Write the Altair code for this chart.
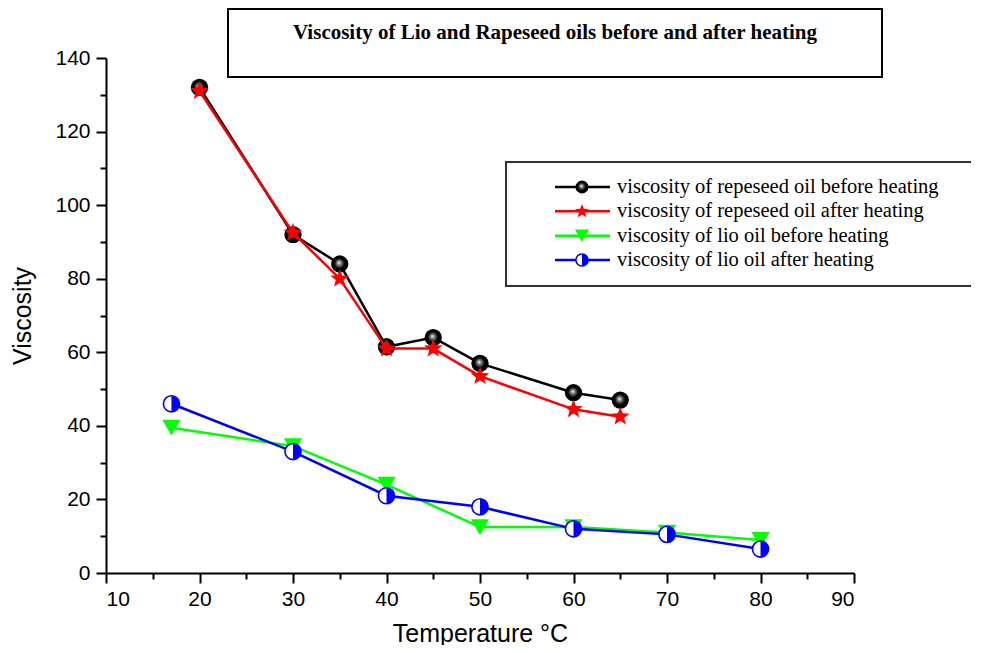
import math
import pandas as pd
import altair as alt

# ---------------- data ----------------
rape_before_x = [20, 30, 35, 40, 45, 50, 60, 65]
rape_before_y = [132, 92, 84, 61.5, 64, 57, 49, 47]
rape_after_x = [20, 30, 35, 40, 45, 50, 60, 65]
rape_after_y = [131, 92.5, 80, 61, 61, 53.5, 44.5, 42.5]
lio_before_x = [17, 30, 40, 50, 60, 70, 80]
lio_before_y = [39.5, 34.5, 24, 12.5, 12.5, 11, 9]
lio_after_x = [17, 30, 40, 50, 60, 70, 80]
lio_after_y = [46, 33, 21, 18, 12, 10.5, 6.5]

series_names = [
    "viscosity of repeseed oil before heating",
    "viscosity of repeseed oil after heating",
    "viscosity of lio oil before heating",
    "viscosity of lio oil after heating",
]
series_colors = ["#000000", "#FF0000", "#00FF00", "#0000FF"]
title_text = "Viscosity of Lio and Rapeseed oils before and after heating"
x_title = "Temperature °C"
y_title = "Viscosity"
x_ticks = list(range(10, 95, 5))
y_ticks = list(range(0, 150, 10))

def frame(xs, ys, name):
    return pd.DataFrame({"x": xs, "y": ys, "series": name})

d_rb = frame(rape_before_x, rape_before_y, series_names[0])
d_ra = frame(rape_after_x, rape_after_y, series_names[1])
d_lb = frame(lio_before_x, lio_before_y, series_names[2])
d_la = frame(lio_after_x, lio_after_y, series_names[3])

# ---------------- shapes ----------------
pts = []
for k in range(10):
    ang = math.radians(-90 + 36 * k)
    r = 1.0 if k % 2 == 0 else 0.42
    pts.append(f"{r*math.cos(ang):.3f},{r*math.sin(ang):.3f}")
STAR = "M" + " L".join(pts) + " Z"
RIGHT_HALF = "M0,-1 A1,1 0 0,1 0,1 Z"

sphere_fill = alt.RadialGradient(
    gradient="radial",
    stops=[
        alt.GradientStop(offset=0.0, color="#ffffff"),
        alt.GradientStop(offset=0.22, color="#8a8a8a"),
        alt.GradientStop(offset=0.6, color="#000000"),
        alt.GradientStop(offset=1.0, color="#000000"),
    ],
    x1=0.45, y1=0.42, r1=0.0, x2=0.5, y2=0.5, r2=0.5,
)

# ---------------- scales / axes ----------------
W, H = 748, 515
xs = alt.Scale(domain=[10, 90], nice=False, zero=False)
ys = alt.Scale(domain=[0, 140], nice=False)
FONT = "Liberation Sans"
LBL = 21

x_axis = alt.Axis(
    values=x_ticks, grid=False,
    labelExpr="datum.value % 10 === 0 ? datum.label : ''",
    tickSize={"condition": {"test": "datum.value % 10 === 0", "value": 10}, "value": 6},
    tickWidth=2, tickColor="black", domainColor="black", domainWidth=2,
    labelFont=FONT, labelFontSize=LBL, labelColor="black", labelPadding=5,
    title=x_title, titleFont=FONT, titleFontSize=25, titleFontWeight="normal",
    titleColor="black", titleY=68, titleBaseline="alphabetic",
)
y_axis = alt.Axis(
    values=y_ticks, grid=False,
    labelExpr="datum.value % 20 === 0 ? datum.label : ''",
    tickSize={"condition": {"test": "datum.value % 20 === 0", "value": 10}, "value": 6},
    tickWidth=2, tickColor="black", domainColor="black", domainWidth=2,
    labelFont=FONT, labelFontSize=LBL, labelColor="black", labelPadding=6,
    title=y_title, titleFont=FONT, titleFontSize=25, titleFontWeight="normal",
    titleColor="black", titleX=-84, titleY=H / 2, titleAngle=-90,
    titleAlign="center", titleBaseline="middle",
)
X = alt.X("x:Q", scale=xs, axis=x_axis)
Y = alt.Y("y:Q", scale=ys, axis=y_axis)

def line(df, color):
    return alt.Chart(df).mark_line(color=color, strokeWidth=2.5).encode(x=X, y=Y)

l_rb = line(d_rb, series_colors[0])
p_rb = alt.Chart(d_rb).mark_point(shape="circle", filled=True, fill=sphere_fill,
                                  size=300, opacity=1, strokeWidth=0).encode(x=X, y=Y)
l_ra = line(d_ra, series_colors[1])
p_ra = alt.Chart(d_ra).mark_point(shape=STAR, filled=True, color=series_colors[1],
                                  size=380, opacity=1).encode(x=X, y=Y)
l_lb = line(d_lb, series_colors[2])
p_lb = alt.Chart(d_lb).mark_point(shape="triangle-down", filled=True, color=series_colors[2],
                                  size=330, opacity=1).encode(x=X, y=Y)
l_la = line(d_la, series_colors[3])
p_la1 = alt.Chart(d_la).mark_point(shape="circle", filled=False, fill="white",
                                   stroke=series_colors[3], strokeWidth=1.6,
                                   size=260, opacity=1).encode(x=X, y=Y)
p_la2 = alt.Chart(d_la).mark_point(shape=RIGHT_HALF, filled=True, color=series_colors[3],
                                   size=260, opacity=1).encode(x=X, y=Y)

main = alt.layer(l_rb, p_rb, l_ra, p_ra, l_lb, p_lb, l_la, p_la1, p_la2)

# ---------------- title box ----------------
tdf = pd.DataFrame({"t": [title_text]})
title_box = alt.Chart(tdf).mark_rect(fill="white", stroke="black", strokeWidth=2).encode(
    x=alt.value(122), x2=alt.value(776), y=alt.value(-49), y2=alt.value(19))
title_txt = alt.Chart(tdf).mark_text(font="Liberation Serif", fontSize=21, fontWeight="bold",
                                     color="black", align="center", baseline="middle").encode(
    x=alt.value(449), y=alt.value(-25), text="t:N")

# ---------------- legend ----------------
ldf = pd.DataFrame({"series": series_names, "row": [0, 1, 2, 3]})
LY = alt.Y("row:Q", scale=alt.Scale(domain=[0, 3], range=[129, 202]), axis=None)
cscale = alt.Scale(domain=series_names, range=series_colors)
leg_box = alt.Chart(pd.DataFrame({"a": [0]})).mark_rect(fill="white", stroke="#333333",
                                                        strokeWidth=2).encode(
    x=alt.value(400), x2=alt.value(900), y=alt.value(104), y2=alt.value(228))
leg_lines = alt.Chart(ldf).mark_rule(strokeWidth=2.5).encode(
    x=alt.value(449), x2=alt.value(504), y=LY,
    color=alt.Color("series:N", scale=cscale, legend=None))
leg_text = alt.Chart(ldf).mark_text(font="Liberation Serif", fontSize=20.5, color="black",
                                    align="left", baseline="middle").encode(
    x=alt.value(511), y=LY, text="series:N")
def lsel(i):
    return alt.Chart(ldf).transform_filter(alt.datum.row == i)
lm0 = lsel(0).mark_point(shape="circle", filled=True, fill=sphere_fill, size=170,
                         opacity=1, strokeWidth=0).encode(x=alt.value(476), y=LY)
lm1 = lsel(1).mark_point(shape=STAR, filled=True, color=series_colors[1], size=220,
                         opacity=1).encode(x=alt.value(476), y=LY)
lm2 = lsel(2).mark_point(shape="triangle-down", filled=True, color=series_colors[2], size=200,
                         opacity=1).encode(x=alt.value(476), y=LY)
lm3a = lsel(3).mark_point(shape="circle", filled=False, fill="white", stroke=series_colors[3],
                          strokeWidth=1.5, size=150, opacity=1).encode(x=alt.value(476), y=LY)
lm3b = lsel(3).mark_point(shape=RIGHT_HALF, filled=True, color=series_colors[3], size=150,
                          opacity=1).encode(x=alt.value(476), y=LY)
legend = alt.layer(leg_box, leg_lines, leg_text, lm0, lm1, lm2, lm3a, lm3b)

chart = alt.layer(main, title_box, title_txt, legend).resolve_scale(
    y="independent", x="independent", color="independent"
).properties(
    width=W, height=H,
    autosize=alt.AutoSizeParams(type="none"),
    padding={"left": 98, "top": 50, "right": 117, "bottom": 72},
).configure_view(stroke=None).configure_axis(
    labelFontSize=LBL, labelFont=FONT
)

chart.save("out.html", embed_options={"renderer": "svg", "actions": False})
